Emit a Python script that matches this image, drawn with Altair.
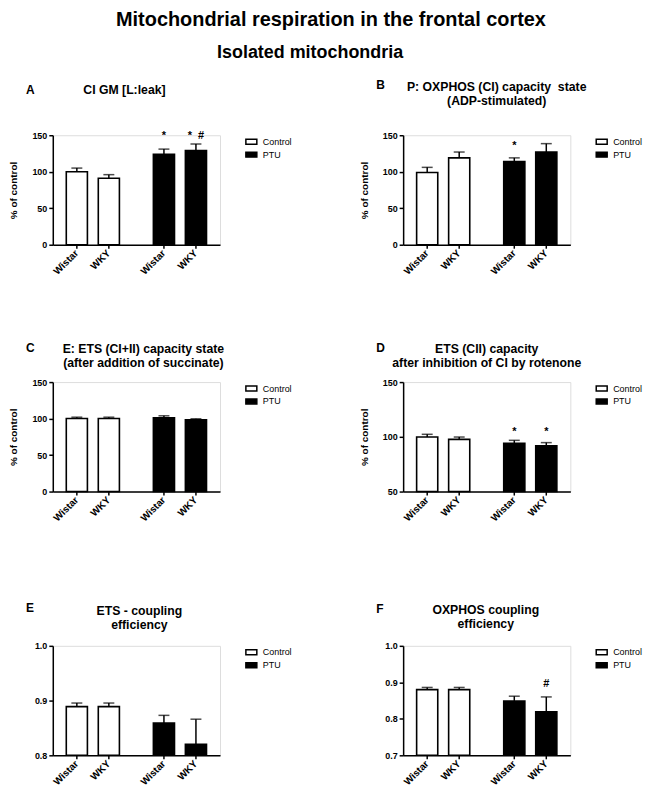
import altair as alt
import pandas as pd

FONT = "Liberation Sans"
W, H = 168, 110

groups = ["Control", "Control", "PTU", "PTU"]
strains = ["Wistar", "WKY", "Wistar", "WKY"]

# Panel A: CI GM [L:leak]
a_mean = [100, 91, 124, 129]
a_upper = [105, 96, 131, 138]
a_note = ["", "", "*", "*\u00a0\u00a0#"]
a_note_y = [None, None, 149, 149]

# Panel B: OXPHOS (CI) capacity
b_mean = [99, 119, 114, 127]
b_upper = [106, 127, 119, 138.5]
b_note = ["", "", "*", ""]
b_note_y = [None, None, 135, None]

# Panel C: ETS (CI+II) capacity
c_mean = [100, 100, 101, 98.4]
c_upper = [101.9, 101.9, 103.8, 99.7]
c_note = ["", "", "", ""]
c_note_y = [None, None, None, None]

# Panel D: ETS (CII) capacity
d_mean = [99.8, 97.7, 94.1, 91.7]
d_upper = [102.3, 99.8, 96.8, 94.7]
d_note = ["", "", "*", "*"]
d_note_y = [None, None, 104, 104]

# Panel E: ETS coupling efficiency
e_mean = [0.889, 0.889, 0.859, 0.82]
e_upper = [0.8955, 0.8955, 0.873, 0.866]
e_note = ["", "", "", ""]
e_note_y = [None, None, None, None]

# Panel F: OXPHOS coupling efficiency
f_mean = [0.88, 0.88, 0.849, 0.819]
f_upper = [0.886, 0.886, 0.862, 0.86]
f_note = ["", "", "", "#"]
f_note_y = [None, None, None, 0.896]


def panel(letter, title, mean, upper, notes, note_y, domain, ticks, fmt,
          show_ytitle, tdx, title_y, letter_y):
    df = pd.DataFrame({
        "group": groups, "strain": strains, "mean": mean, "upper": upper,
        "base": [domain[0]] * 4, "note": notes, "note_y": note_y,
    })
    x = alt.X("group:N", sort=["Control", "PTU"],
              scale=alt.Scale(paddingInner=0.39, paddingOuter=0.155),
              axis=alt.Axis(labels=False, ticks=False, title=None,
                            domainColor="black", domainWidth=1.5))
    xo = alt.XOffset("strain:N", sort=["Wistar", "WKY"],
                     scale=alt.Scale(paddingInner=0.34, paddingOuter=0))
    yscale = alt.Scale(domain=domain, nice=False, zero=False)
    yaxis = alt.Axis(values=ticks, tickCount=len(ticks) + 2, format=fmt,
                     title="% of control",
                     titleColor="black" if show_ytitle else "transparent",
                     titleFont=FONT, titleFontSize=10, titleFontWeight="bold",
                     titlePadding=12, labelFont=FONT, labelFontSize=9,
                     labelFontWeight="bold", labelColor="black", labelPadding=2,
                     labelOverlap=False, labelFlush=False,
                     tickSize=4, tickColor="black", tickWidth=1.5,
                     domainColor="black", domainWidth=1.5, grid=False,
                     minExtent=22, maxExtent=22)
    base = alt.Chart(df)
    bars = base.mark_bar(stroke="black", strokeWidth=1.6).encode(
        x=x, xOffset=xo,
        y=alt.Y("mean:Q", scale=yscale, axis=yaxis),
        y2="base:Q",
        fill=alt.Fill("group:N",
                      scale=alt.Scale(domain=["Control", "PTU"], range=["white", "black"]),
                      legend=alt.Legend(title=None, orient="right", offset=25, padding=0,
                                        symbolType="M-1,-0.45H1V0.45H-1Z", symbolSize=121,
                                        symbolStrokeColor="black", symbolStrokeWidth=1.5,
                                        labelFont=FONT, labelFontSize=9, labelColor="black",
                                        rowPadding=1, labelOffset=5)),
    )
    err = base.mark_rule(color="black", strokeWidth=1.5).encode(
        x=x, xOffset=xo, y="mean:Q", y2="upper:Q")
    cap = base.mark_tick(color="black", size=11, thickness=1.5).encode(
        x=x, xOffset=xo, y="upper:Q")
    xt = base.mark_rule(color="black", strokeWidth=1.5).encode(
        x=x, xOffset=xo, y=alt.value(H), y2=alt.value(H + 4))
    xl = base.mark_text(angle=315, align="right", baseline="middle", font=FONT,
                        fontWeight="bold", fontSize=10, color="black").encode(
        x=x, xOffset=xo, y=alt.value(H + 7), text="strain:N")
    nt = base.transform_filter("datum.note != ''").mark_text(
        baseline="middle", align="center", font=FONT, fontWeight="bold",
        fontSize=11, color="black").encode(
        x=x, xOffset=xo, y="note_y:Q", text="note:N")
    lt = alt.Chart(pd.DataFrame({"t": [letter]})).mark_text(
        align="left", baseline="alphabetic", font=FONT, fontWeight="bold",
        fontSize=12, color="black").encode(
        x=alt.value(-27), y=alt.value(letter_y), text="t:N")
    tt = alt.Chart(pd.DataFrame({"t": ["\n".join(title)]})).mark_text(
        align="center", baseline="alphabetic", font=FONT, fontWeight="bold",
        fontSize=12.3, color="black", lineBreak="\n", lineHeight=14).encode(
        x=alt.value(W / 2 + tdx), y=alt.value(title_y), text="t:N")
    return alt.layer(bars, err, cap, xt, xl, nt, lt, tt).properties(width=W, height=H)


pA = panel("A", ["CI GM [L:leak]"], a_mean, a_upper, a_note, a_note_y,
           [0, 150], [0, 50, 100, 150], "d", True, -12, -41, -41)
pB = panel("B", ["P: OXPHOS (CI) capacity\u00a0\u00a0state", "(ADP-stimulated)"], b_mean, b_upper,
           b_note, b_note_y, [0, 150], [0, 50, 100, 150], "d", True, 10, -44, -46)
pC = panel("C", ["E: ETS (CI+II) capacity state", "(after addition of succinate)"], c_mean, c_upper,
           c_note, c_note_y, [0, 150], [0, 50, 100, 150], "d", True, 7, -29, -30)
pD = panel("D", ["ETS (CII) capacity", "after inhibition of CI by rotenone"], d_mean, d_upper,
           d_note, d_note_y, [50, 150], [50, 100, 150], "d", True, 0, -29, -30)
pE = panel("E", ["ETS - coupling", "efficiency"], e_mean, e_upper,
           e_note, e_note_y, [0.8, 1.0], [0.8, 0.9, 1.0], ".1f", False, 3, -31, -34)
pF = panel("F", ["OXPHOS coupling", "efficiency"], f_mean, f_upper,
           f_note, f_note_y, [0.7, 1.0], [0.7, 0.8, 0.9, 1.0], ".1f", False, -1, -32, -33)

res = dict(fill="independent", x="independent", y="independent")
row1 = alt.hconcat(pA, pB, spacing=65).resolve_scale(**res).properties(
    title=alt.TitleParams("Isolated mitochondria", font=FONT, fontSize=18,
                          fontWeight="bold", color="black", anchor="middle",
                          dx=-16, offset=17))
row2 = alt.hconcat(pC, pD, spacing=65).resolve_scale(**res)
row3 = alt.hconcat(pE, pF, spacing=65).resolve_scale(**res)
rows23 = alt.vconcat(row2, row3, spacing=77).resolve_scale(**res)

chart = alt.vconcat(row1, rows23, spacing=64).resolve_scale(**res).properties(
    padding=0,
    title=alt.TitleParams("Mitochondrial respiration in the frontal cortex",
                          font=FONT, fontSize=20, fontWeight="bold", color="black",
                          anchor="middle", dx=5, offset=14),
).configure_view(stroke=None).configure(background="white")

chart.save("out.html", embed_options={"renderer": "svg", "actions": False})
